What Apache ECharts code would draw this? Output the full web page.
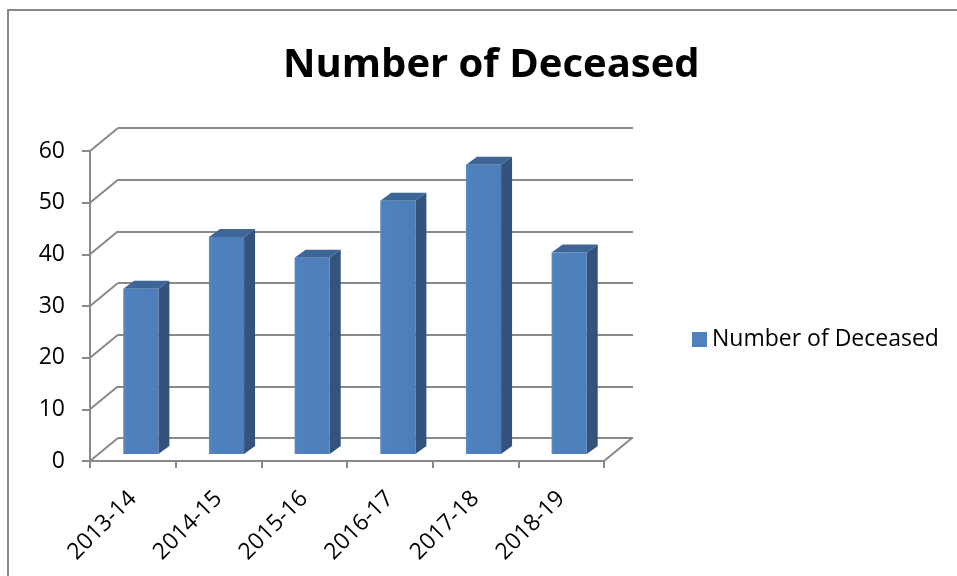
<!DOCTYPE html>
<html>
<head>
<meta charset="utf-8">
<script src="https://cdn.jsdelivr.net/npm/echarts@6/dist/echarts.min.js"></script>
<style>html,body{margin:0;padding:0;background:#fff}#c{width:957px;height:576px}</style>
</head>
<body>
<div id="c"></div>
<script>
const categories = ['2013-14', '2014-15', '2015-16', '2016-17', '2017-18', '2018-19'];
const values = [32, 42, 38, 49, 56, 39];
const yTicks = [0, 10, 20, 30, 40, 50, 60];
const seriesName = 'Number of Deceased';
const chartTitle = 'Number of Deceased';

const FONT = 'Open Sans';
const GRID_COLOR = '#898989';
const DEPTH_X = 28, DEPTH_Y = -23;      // back wall offset
const BAR_OFF_X = 8, BAR_OFF_Y = -7;    // bar front plane offset
const BAR_DX = 11, BAR_DY = -8;         // bar depth
const BAR_RATIO = 0.41;

const chart = echarts.init(document.getElementById('c'), null, {renderer: 'canvas'});

function wallsRender(params, api) {
  const v = api.value(1);
  const p = api.coord([0, v]);
  const half = api.size([1, 0])[0] / 2;
  const lx = p[0] - half;
  const children = [{
    type: 'line',
    shape: {x1: lx, y1: p[1], x2: lx + DEPTH_X, y2: p[1] + DEPTH_Y},
    style: {stroke: GRID_COLOR, lineWidth: 2}
  }];
  if (v === 0) {
    const r = api.coord([categories.length - 1, 0]);
    const rx = r[0] + half;
    children.push({
      type: 'line',
      shape: {x1: rx, y1: r[1], x2: rx + DEPTH_X, y2: r[1] + DEPTH_Y},
      style: {stroke: GRID_COLOR, lineWidth: 2}
    });
  }
  return {type: 'group', children: children};
}

function barsRender(params, api) {
  const i = api.value(0);
  const v = api.value(1);
  const base = api.coord([i, 0]);
  const top = api.coord([i, v]);
  const bw = api.size([1, 0])[0] * BAR_RATIO;
  const x0 = base[0] - bw / 2 + BAR_OFF_X;
  const x1 = x0 + bw;
  const yb = base[1] + BAR_OFF_Y;
  const yt = top[1] + BAR_OFF_Y;
  return {
    type: 'group',
    children: [
      {
        type: 'polygon',
        shape: {points: [[x1, yb], [x1 + BAR_DX, yb + BAR_DY], [x1 + BAR_DX, yt + BAR_DY], [x1, yt]]},
        style: {fill: '#33537D'}
      },
      {
        type: 'polygon',
        shape: {points: [[x0, yt], [x1, yt], [x1 + BAR_DX, yt + BAR_DY], [x0 + BAR_DX, yt + BAR_DY]]},
        style: {fill: '#3D6596'}
      },
      {
        type: 'rect',
        shape: {x: x0, y: yt, width: bw, height: yb - yt},
        style: {
          fill: new echarts.graphic.LinearGradient(0, 0, 1, 0, [
            {offset: 0, color: '#5A8AC4'},
            {offset: 0.08, color: '#4F81BD'},
            {offset: 1, color: '#4D7EBA'}
          ])
        }
      }
    ]
  };
}

const option = {
  animation: false,
  backgroundColor: '#ffffff',
  title: {
    text: chartTitle,
    left: 283,
    top: 46,
    padding: 0,
    textStyle: {fontFamily: FONT, fontWeight: 'bold', fontSize: 40, color: '#000'}
  },
  legend: {
    data: [seriesName],
    left: 692,
    top: 328,
    padding: 0,
    icon: 'rect',
    itemWidth: 15,
    itemHeight: 15,
    itemGap: 7,
    textStyle: {fontFamily: FONT, fontSize: 23, color: '#000', padding: [0, 0, 0, 0]}
  },
  grid: [
    {left: 90, top: 151, width: 514, height: 310},
    {left: 118, top: 128, width: 515, height: 310}
  ],
  xAxis: [
    {
      gridIndex: 0, type: 'category', data: categories,
      axisLine: {show: true, lineStyle: {color: GRID_COLOR, width: 2}},
      axisTick: {show: true, length: 7, lineStyle: {color: GRID_COLOR, width: 2}},
      axisLabel: {rotate: 45, fontFamily: FONT, fontSize: 23, color: '#000', margin: 34},
      splitLine: {show: false}
    },
    {gridIndex: 1, type: 'category', data: categories, show: false}
  ],
  yAxis: [
    {
      gridIndex: 0, type: 'value', min: 0, max: 60, interval: 10,
      axisLine: {show: true, lineStyle: {color: GRID_COLOR, width: 2}},
      axisTick: {show: true, length: 8, lineStyle: {color: GRID_COLOR, width: 2}},
      axisLabel: {fontFamily: FONT, fontSize: 23, color: '#000', margin: 25},
      splitLine: {show: false}
    },
    {
      gridIndex: 1, type: 'value', min: 0, max: 60, interval: 10,
      axisLine: {show: false}, axisTick: {show: false}, axisLabel: {show: false},
      splitLine: {show: true, lineStyle: {color: GRID_COLOR, width: 2}}
    }
  ],
  series: [
    {
      name: '_walls', type: 'custom', xAxisIndex: 0, yAxisIndex: 0, silent: true, z: 1,
      renderItem: wallsRender,
      data: yTicks.map(v => [0, v])
    },
    {
      name: seriesName, type: 'custom', xAxisIndex: 0, yAxisIndex: 0, z: 5,
      itemStyle: {color: '#4F81BD'},
      renderItem: barsRender,
      encode: {x: 0, y: 1},
      data: values.map((v, i) => [i, v])
    }
  ],
  graphic: [
    {
      type: 'rect', silent: true, z: 100,
      shape: {x: 8, y: 10, width: 1000, height: 700},
      style: {fill: 'none', stroke: '#878787', lineWidth: 2}
    }
  ]
};
chart.setOption(option);
</script>
</body>
</html>
